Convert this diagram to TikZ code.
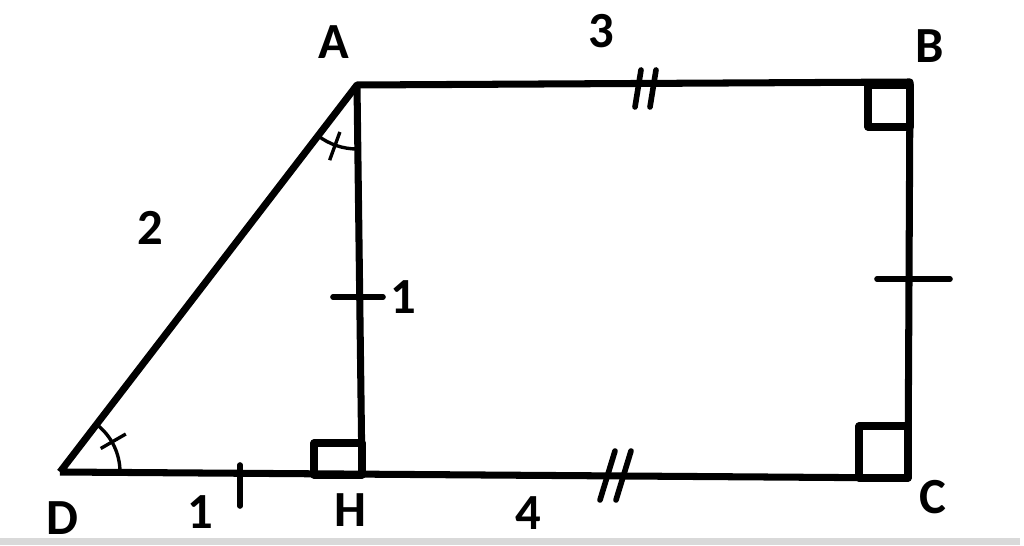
\documentclass[tikz,border=0pt]{standalone}
\usepackage{fontspec}
\setmainfont{Carlito}
\usetikzlibrary{calc}

\begin{document}
\begin{tikzpicture}[x=0.025cm, y=-0.025cm, line join=round,
    side/.style={line width=5pt},
    tickmark/.style={line width=4pt, line cap=round},
    anglearc/.style={line width=2.4pt},
    lbl/.style={font=\fontsize{36}{40}\selectfont\bfseries, inner sep=0pt}]
  \useasboundingbox (0,0) rectangle (1024,545);
  \fill[gray!30] (0,538) rectangle (1020,545);
  % vertices
  \coordinate (A) at (357,85);
  \coordinate (B) at (910,82);
  \coordinate (C) at (908,478);
  \coordinate (D) at (60,472);
  \coordinate (H) at (362,475);
  % sides and height
  \draw[side] (D) -- (A) -- (B) -- (C) -- (D);
  \draw[side] (A) -- (H);
  % right angles
  \draw[side] ($(H)+(-48,0)$) rectangle ($(H)+(0,-32)$);
  \draw[side] ($(B)+(-42,3)$) rectangle ($(B)+(0,45)$);
  \draw[side] ($(C)+(-49,0)$) rectangle ($(C)+(0,-52)$);
  % equal angles at D and A
  \draw[anglearc] ($(D)+(0:60)$) arc[start angle=0, end angle=-52.5, radius=60];
  \draw[anglearc] ($(D)+(-30:47)$) -- ($(D)+(-30:76)$);
  \draw[anglearc] ($(A)+(90:64)$) arc[start angle=90, end angle=127.5, radius=64];
  \draw[anglearc] ($(A)+(110:50)$) -- ($(A)+(110:80)$);
  % single ticks
  \draw[tickmark] (333,297) -- (383,297);
  \draw[tickmark] (877,279) -- (950,279);
  \draw[tickmark] (240,465) -- (240,506);
  % double ticks
  \foreach \dx in {0,15} {
    \draw[tickmark] (635+\dx,107) -- (641+\dx,70);
  }
  \foreach \dx in {0,16} {
    \draw[tickmark] (600+\dx,500) -- (615+\dx,451);
  }
  % labels
  \node[lbl] (labelA) at (334,42) {A};
  \node[lbl] (labelB) at (930,46) {B};
  \node[lbl] (labelC) at (933,497) {C};
  \node[lbl] (labelD) at (62,518) {D};
  \node[lbl] (labelH) at (350,510) {H};
  \node[lbl] (lenAB) at (601,31) {3};
  \node[lbl] (lenAD) at (150,228) {2};
  \node[lbl] (lenAH) at (403,297) {1};
  \node[lbl] (lenDH) at (200,512) {1};
  \node[lbl] (lenHC) at (528,513) {4};
\end{tikzpicture}
\end{document}
